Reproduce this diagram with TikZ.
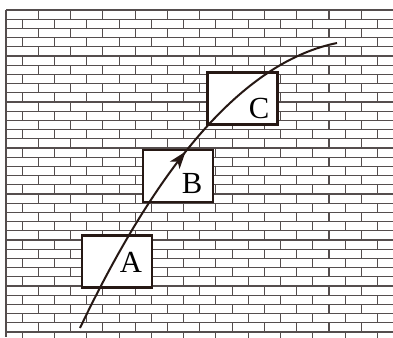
\documentclass[tikz,border=0pt]{standalone}
\usepackage{fontspec}
\setmainfont{Liberation Serif}
\usetikzlibrary{arrows.meta,decorations.markings}
\definecolor{ink}{RGB}{38,24,20}
\definecolor{mortar}{RGB}{85,78,78}

\begin{document}
\begin{tikzpicture}[x=0.75pt,y=-0.75pt,
 box/.style={draw=ink,line width=1.8pt,fill=white,minimum width=52.5pt,minimum height=39pt,inner sep=0pt},
 lab/.style={font=\fontsize{23}{23}\selectfont,inner sep=0pt,anchor=base},
 joint/.style={draw=mortar,line width=0.8pt},
 track/.style={draw=ink,line width=1.5pt,postaction={decorate},
  decoration={markings,mark=at position 0.52 with {\arrow{Stealth[length=13pt,width=9pt,inset=3.5pt]}}}}]
\useasboundingbox (0,0) rectangle (393,337);
% brick wall
\begin{scope}
\clip (5,9) rectangle (393,337);
\draw[joint] (6,10) -- (6,337);
\foreach \k in {0,...,35} {
  \draw[joint] (6,10+9.2*\k) -- (393,10+9.2*\k);
  \pgfmathsetmacro\off{mod(\k,2)*16.15}
  \foreach \j in {0,...,12}
    \draw[joint] (6+\off+32.3*\j,10+9.2*\k) -- ++(0,9.2);
}
\end{scope}
% boxes
\node[box] (boxA) at (116.7,261.3) {};
\node[box] (boxB) at (177.7,175.8) {};
\node[box] (boxC) at (242.5,98.3) {};
% path
\coordinate (launch) at (80,328);
\coordinate (top) at (337,43);
\draw[track] (launch) .. controls (162,156) and (247.7,61) .. (top);
\node[lab] (labA) at (131,272) {A};
\node[lab] (labB) at (192,193.5) {B};
\node[lab] (labC) at (259,118) {C};
\end{tikzpicture}
\end{document}
